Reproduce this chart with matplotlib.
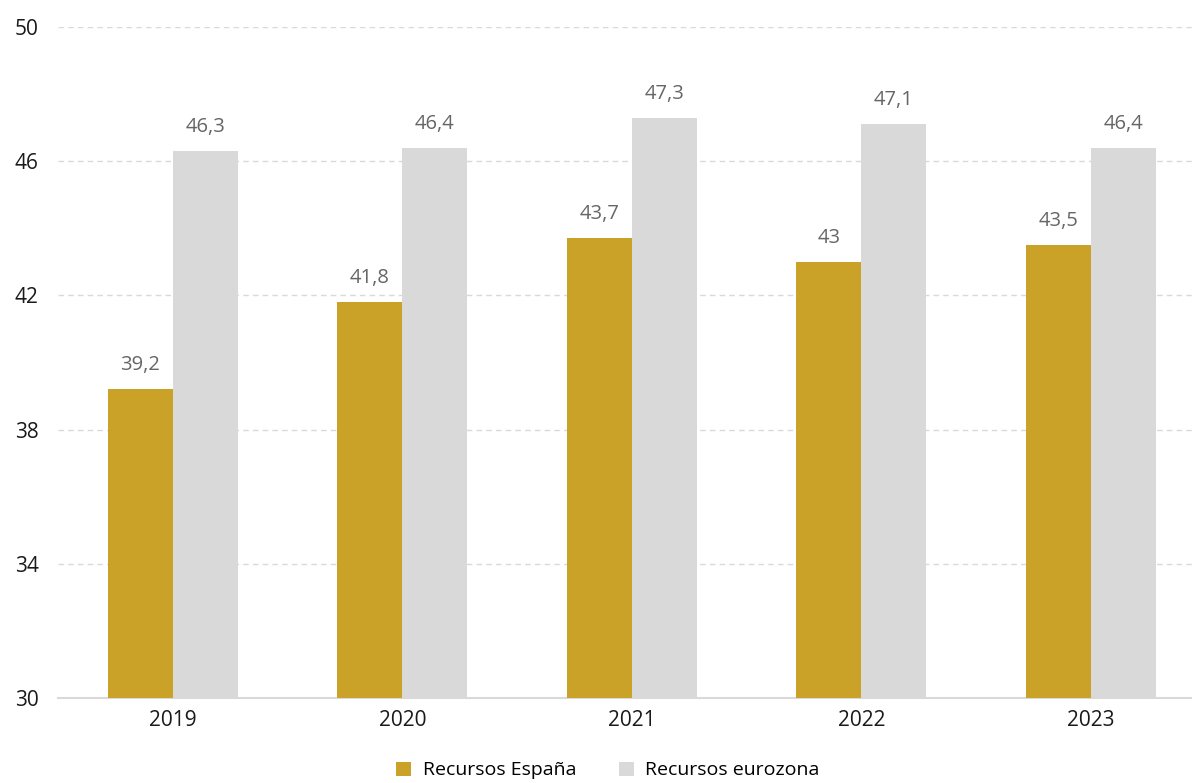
import matplotlib.pyplot as plt
import numpy as np

# Data
years = ['2019', '2020', '2021', '2022', '2023']
espana = [39.2, 41.8, 43.7, 43.0, 43.5]
eurozona = [46.3, 46.4, 47.3, 47.1, 46.4]
y_ticks = [30, 34, 38, 42, 46, 50]

plt.rcParams['font.family'] = ['Open Sans', 'DejaVu Sans']

fig = plt.figure(figsize=(11.92, 7.83), dpi=100)
ax = fig.add_axes([0.0487, 0.1086, 0.9513, 0.8569])

x = np.arange(len(years))
w = 0.283
gold = '#C9A227'
grey = '#D9D9D9'

b1 = ax.bar(x - w / 2, espana, width=w, color=gold, label='Recursos España', zorder=3)
b2 = ax.bar(x + w / 2, eurozona, width=w, color=grey, label='Recursos eurozona', zorder=3)


def fmt(v):
    s = ('%.1f' % v).rstrip('0').rstrip('.')
    return s.replace('.', ',')


for bars, vals in ((b1, espana), (b2, eurozona)):
    for bar, v in zip(bars, vals):
        ax.annotate(fmt(v), (bar.get_x() + bar.get_width() / 2, v),
                    xytext=(0, 10), textcoords='offset points',
                    ha='center', va='bottom', fontsize=14.5, color='#666666')

ax.set_ylim(30, 50)
ax.set_xlim(-0.5, 4.44)
ax.set_yticks(y_ticks)
ax.set_xticks(x)
ax.set_xticklabels(years)
ax.tick_params(axis='both', length=0, labelsize=15, colors='#1a1a1a')
ax.tick_params(axis='x', pad=9)
ax.tick_params(axis='y', pad=14)

ax.grid(axis='y', color='#d9d9d9', linestyle=(0, (4, 3)), linewidth=1, zorder=0)
for s in ['top', 'right', 'left']:
    ax.spines[s].set_visible(False)
ax.spines['bottom'].set_color('#d9d9d9')
ax.spines['bottom'].set_linewidth(1.5)

ax.legend(loc='upper center', bbox_to_anchor=(0.485, -0.083), ncol=2, frameon=False,
          fontsize=14, handlelength=0.75, handleheight=0.75, columnspacing=2.2,
          handletextpad=0.6, borderaxespad=0)

fig.savefig('out.png', dpi=100)
